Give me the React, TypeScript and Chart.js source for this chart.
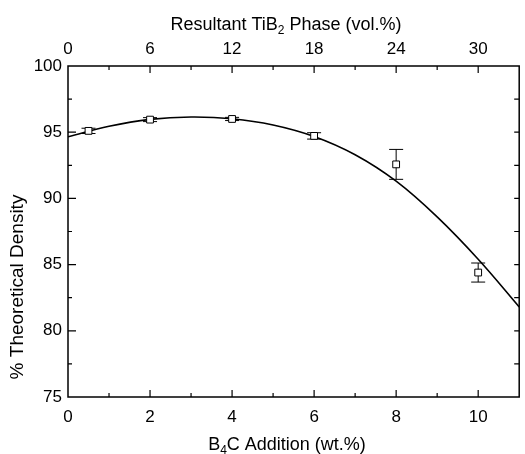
import React, { useEffect, useRef } from "react";
import { Chart, registerables } from "chart.js";

Chart.register(...registerables);

// ---- data ----
const boronCarbideWt = [0.5, 2, 4, 6, 8, 10];
const densityPct = [95.1, 95.95, 96.0, 94.72, 92.57, 84.4];
const densityErr = [0.2, 0.15, 0.12, 0.24, 1.13, 0.72];

const fitX = [0, 1, 2, 3, 4, 5, 6, 7, 8, 9, 10, 11];
const fitY = [94.65, 95.45, 95.97, 96.15, 96.02, 95.55, 94.68, 93.3, 91.3, 88.6, 85.4, 81.8];

const bottomTicks = [0, 2, 4, 6, 8, 10];
const topTicks = [0, 6, 12, 18, 24, 30];
const leftTicks = [75, 80, 85, 90, 95, 100];

const X_MIN = 0;
const X_MAX = 11;
const X2_MAX = 33;
const Y_MIN = 75;
const Y_MAX = 100;

const topTitle = [
  { t: "Resultant TiB" },
  { t: "2", sub: true },
  { t: " Phase (vol.%)" },
];
const bottomTitle = [
  { t: "B" },
  { t: "4", sub: true },
  { t: "C Addition (wt.%)" },
];
const leftTitle = [{ t: "% Theoretical Density" }];

const FONT_FAMILY = '"Liberation Sans", Arial, Helvetica, sans-serif';
const TICK_SIZE = 17;

function drawRich(ctx: CanvasRenderingContext2D, parts: any[], cx: number, baseline: number, size: number) {
  const sub = Math.round(size * 0.65);
  let total = 0;
  const widths = parts.map((p) => {
    ctx.font = `${p.sub ? sub : size}px ${FONT_FAMILY}`;
    const w = ctx.measureText(p.t).width;
    total += w;
    return w;
  });
  let x = cx - total / 2;
  ctx.textAlign = "left";
  ctx.textBaseline = "alphabetic";
  parts.forEach((p, i) => {
    ctx.font = `${p.sub ? sub : size}px ${FONT_FAMILY}`;
    ctx.fillText(p.t, x, baseline + (p.sub ? 4 : 0));
    x += widths[i];
  });
}

const decorPlugin = {
  id: "decor",
  beforeDatasetsDraw(chart: any) {
    const ctx = chart.ctx;
    const xs = chart.scales.x;
    const ys = chart.scales.y;
    ctx.save();
    ctx.strokeStyle = "#000";
    ctx.lineWidth = 1;
    boronCarbideWt.forEach((xv, i) => {
      const px = xs.getPixelForValue(xv);
      const t = ys.getPixelForValue(densityPct[i] + densityErr[i]);
      const b = ys.getPixelForValue(densityPct[i] - densityErr[i]);
      ctx.beginPath();
      ctx.moveTo(px, t);
      ctx.lineTo(px, b);
      ctx.moveTo(px - 7, t);
      ctx.lineTo(px + 7, t);
      ctx.moveTo(px - 7, b);
      ctx.lineTo(px + 7, b);
      ctx.stroke();
    });
    ctx.restore();
  },
  afterDraw(chart: any) {
    const ctx = chart.ctx;
    const a = chart.chartArea;
    const xs = chart.scales.x;
    const x2 = chart.scales.x2;
    const ys = chart.scales.y;
    ctx.save();
    ctx.strokeStyle = "#000";
    ctx.lineWidth = 1.5;
    ctx.strokeRect(a.left, a.top, a.right - a.left, a.bottom - a.top);
    ctx.lineWidth = 1.2;
    ctx.beginPath();
    for (let v = 1; v < X_MAX; v += 1) {
      const px = xs.getPixelForValue(v);
      const len = v % 2 === 0 ? 7 : 4;
      ctx.moveTo(px, a.bottom);
      ctx.lineTo(px, a.bottom - len);
    }
    for (let v = 3; v < X2_MAX; v += 3) {
      const px = x2.getPixelForValue(v);
      const len = v % 6 === 0 ? 7 : 4;
      ctx.moveTo(px, a.top);
      ctx.lineTo(px, a.top + len);
    }
    for (let v = Y_MIN + 2.5; v < Y_MAX; v += 2.5) {
      const py = ys.getPixelForValue(v);
      const len = v % 5 === 0 ? 8 : 4;
      ctx.moveTo(a.left, py);
      ctx.lineTo(a.left + len, py);
      ctx.moveTo(a.right, py);
      ctx.lineTo(a.right - 5, py);
    }
    ctx.stroke();

    ctx.fillStyle = "#000";
    drawRich(ctx, topTitle, 286, 30, 18);
    drawRich(ctx, bottomTitle, 287, 450, 18);
    ctx.translate(23, 287);
    ctx.rotate(-Math.PI / 2);
    drawRich(ctx, leftTitle, 0, 0, 19);
    ctx.restore();
  },
};

export default function App() {
  const ref = useRef<HTMLCanvasElement>(null);
  useEffect(() => {
    if (!ref.current) return;
    const tickFont = { family: FONT_FAMILY, size: TICK_SIZE };
    const chart = new Chart(ref.current, {
      type: "scatter",
      data: {
        datasets: [
          {
            label: "Measured",
            data: boronCarbideWt.map((x, i) => ({ x, y: densityPct[i] })),
            pointStyle: "rect",
            pointRadius: 4.8,
            pointBackgroundColor: "#fff",
            pointBorderColor: "#000",
            pointBorderWidth: 1,
            showLine: false,
            order: 0,
          },
          {
            label: "Fit",
            data: fitX.map((x, i) => ({ x, y: fitY[i] })),
            showLine: true,
            borderColor: "#000",
            borderWidth: 1.6,
            pointRadius: 0,
            tension: 0.4,
            order: 1,
          },
        ],
      },
      options: {
        responsive: false,
        animation: false,
        devicePixelRatio: 1,
        layout: { padding: { left: 0, right: 2, top: 0, bottom: 0 } },
        plugins: { legend: { display: false }, tooltip: { enabled: false } },
        scales: {
          x: {
            type: "linear",
            position: "bottom",
            min: X_MIN,
            max: X_MAX,
            grid: { display: false, drawTicks: false },
            border: { display: false },
            ticks: { font: tickFont, color: "#000", padding: 10, maxRotation: 0 },
            afterBuildTicks: (s: any) => {
              s.ticks = bottomTicks.map((v) => ({ value: v }));
            },
            afterFit: (s: any) => {
              s.height = 57;
            },
          },
          x2: {
            type: "linear",
            position: "top",
            min: 0,
            max: X2_MAX,
            grid: { display: false, drawTicks: false },
            border: { display: false },
            ticks: { font: tickFont, color: "#000", padding: 6, maxRotation: 0 },
            afterBuildTicks: (s: any) => {
              s.ticks = topTicks.map((v) => ({ value: v }));
            },
            afterFit: (s: any) => {
              s.height = 66;
            },
          },
          y: {
            type: "linear",
            position: "left",
            min: Y_MIN,
            max: Y_MAX,
            grid: { display: false, drawTicks: false },
            border: { display: false },
            ticks: { font: tickFont, color: "#000", padding: 6 },
            afterBuildTicks: (s: any) => {
              s.ticks = leftTicks.map((v) => ({ value: v }));
            },
            afterFit: (s: any) => {
              s.width = 68;
            },
          },
        },
      },
      plugins: [decorPlugin],
    } as any);
    return () => chart.destroy();
  }, []);
  return (
    <div style={{ position: "absolute", left: 0, top: 0, width: 525, height: 454, background: "#fff" }}>
      <canvas ref={ref} width={525} height={454} />
    </div>
  );
}
